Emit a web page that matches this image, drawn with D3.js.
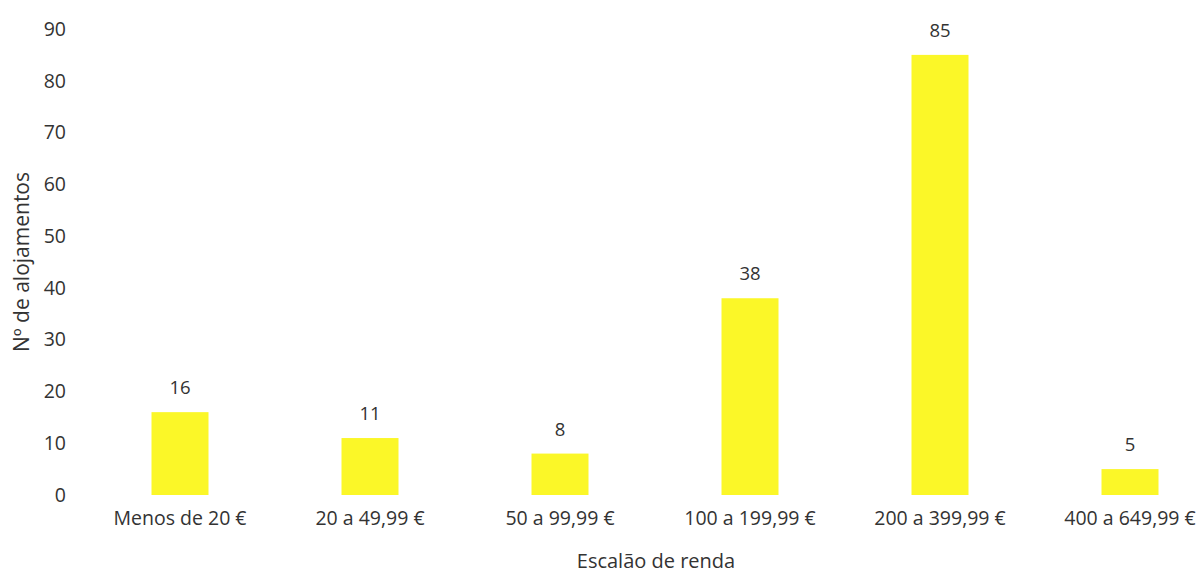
<!DOCTYPE html>
<html lang="pt">
<head>
    <meta charset="UTF-8">
    <title>Nº de alojamentos por escalão de renda</title>
    <script src="https://d3js.org/d3.v7.min.js"></script>
    <style>
        body { margin: 0; background: white; }
        svg { display: block; }
        svg text, .tick text { font-family: "Open Sans", sans-serif; fill: #333; }
        .tick text { font-size: 19.5px; }
    </style>
</head>
<body>
    <div id="chart"></div>
    <script>
        // Data
        const categories = ["Menos de 20 €", "20 a 49,99 €", "50 a 99,99 €", "100 a 199,99 €", "200 a 399,99 €", "400 a 649,99 €"];
        const values = [16, 11, 8, 38, 85, 5];
        const yTicks = [0, 10, 20, 30, 40, 50, 60, 70, 80, 90];

        const width = 1204, height = 573;

        const svg = d3.select("#chart")
            .append("svg")
            .attr("width", width)
            .attr("height", height);

        // x: band scale, the last band runs a bit past the right edge (as in the picture)
        const x = d3.scaleBand()
            .domain(categories)
            .range([85, 1225])
            .paddingInner(0.7)
            .paddingOuter(0.35);

        const y = d3.scaleLinear()
            .domain([0, 90])
            .range([495, 29]);

        // y axis: labels only
        const yAxis = svg.append("g")
            .attr("transform", "translate(66,0)")
            .call(d3.axisLeft(y).tickValues(yTicks).tickSize(0).tickPadding(0));
        yAxis.select(".domain").remove();

        // x axis: labels only
        const xAxis = svg.append("g")
            .attr("transform", "translate(0,511)")
            .call(d3.axisBottom(x).tickSize(0).tickPadding(0));
        xAxis.select(".domain").remove();

        // bars
        svg.selectAll("rect.bar")
            .data(values)
            .join("rect")
            .attr("class", "bar")
            .attr("x", (d, i) => x(categories[i]))
            .attr("y", d => y(d))
            .attr("width", x.bandwidth())
            .attr("height", d => y(0) - y(d))
            .attr("fill", "#fbf728");

        // value labels
        svg.selectAll("text.val")
            .data(values)
            .join("text")
            .attr("class", "val")
            .attr("x", (d, i) => x(categories[i]) + x.bandwidth() / 2)
            .attr("y", d => y(d) - 18)
            .attr("text-anchor", "middle")
            .attr("font-size", 18.5)
            .text(d => d);

        // axis titles
        svg.append("text")
            .attr("x", 656)
            .attr("y", 568)
            .attr("text-anchor", "middle")
            .attr("font-size", 20)
            .text("Escalão de renda");

        svg.append("text")
            .attr("transform", "translate(29,262) rotate(-90)")
            .attr("text-anchor", "middle")
            .attr("font-size", 21)
            .text("Nº de alojamentos");
    </script>
</body>
</html>
